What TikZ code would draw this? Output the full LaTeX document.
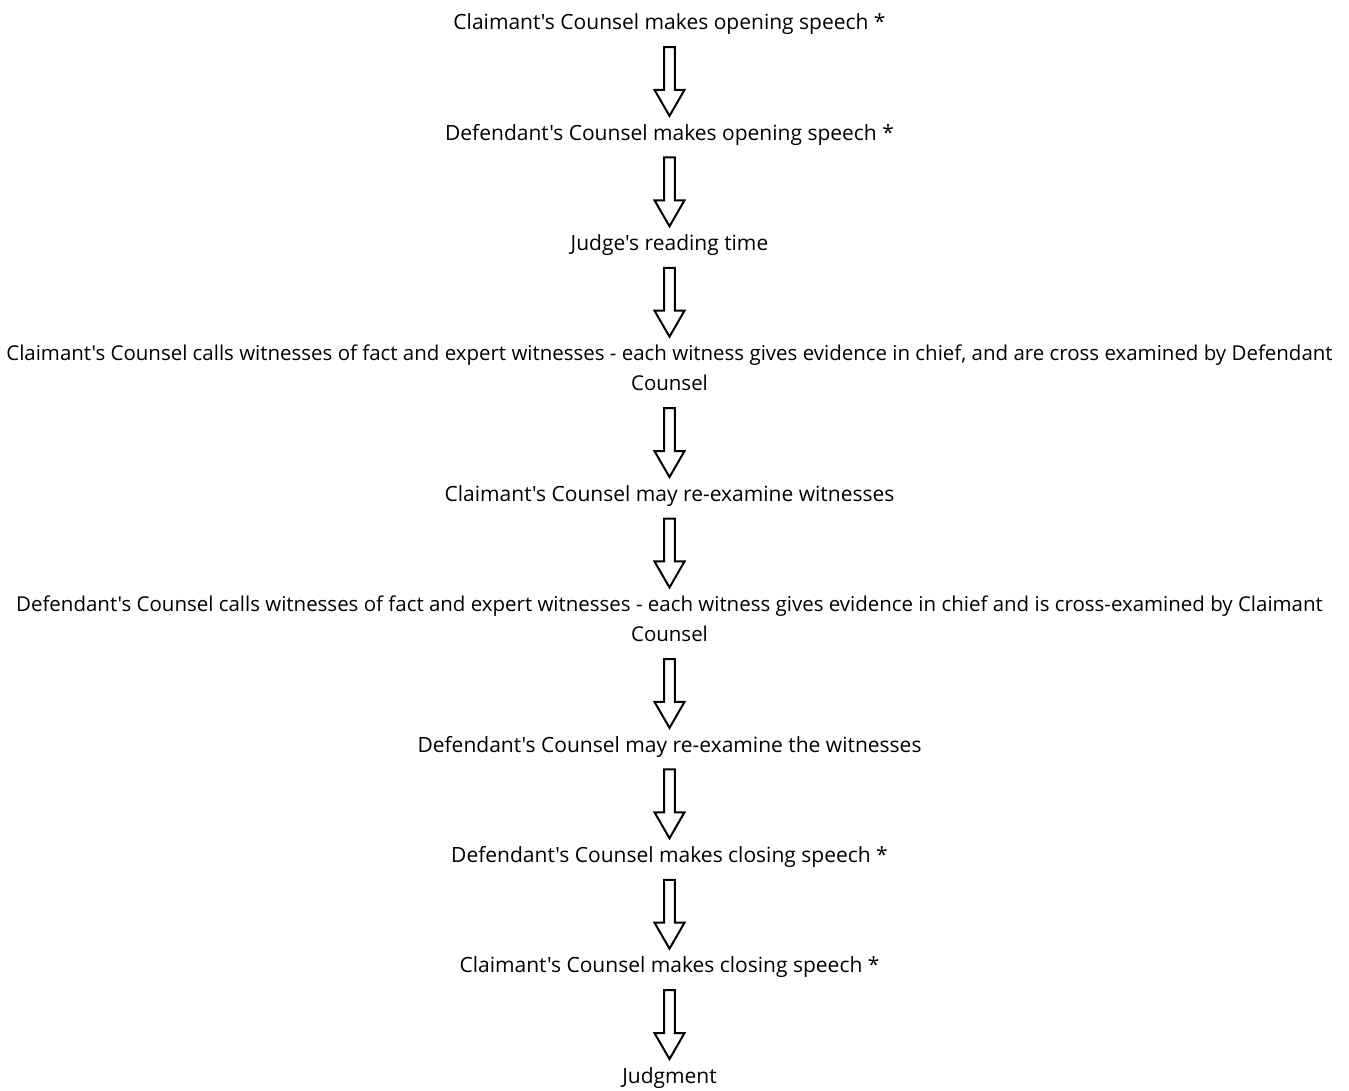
\documentclass[tikz,border=0pt]{standalone}
\usepackage{fontspec}
\setmainfont{Open Sans}[Ligatures=TeXOff]
\usetikzlibrary{calc}
\tikzstyle{stage}=[inner sep=0pt,anchor=south,text height=11.25pt,text depth=0pt,font=\fontsize{15.75}{22.5}\selectfont]
\tikzstyle{stage2}=[stage,align=center,text height=33.75pt,font=\fontsize{15.35}{22.5}\selectfont]
\tikzstyle{flow}=[draw,line width=1.5pt,line join=miter,
  to path={let \p1=(\tikztostart.south), \p2=(\tikztotarget.north) in
    (\x1-4.1pt,\y1-12.75pt) -- (\x1+4.1pt,\y1-12.75pt) -- (\x1+4.1pt,\y2+26.25pt)
    -- (\x1+11.25pt,\y2+26.25pt) -- (\x1,\y2+6.75pt) -- (\x1-11.25pt,\y2+26.25pt)
    -- (\x1-4.1pt,\y2+26.25pt) -- cycle}]

\begin{document}
\begin{tikzpicture}[x=0.75pt,y=-0.75pt]
    \useasboundingbox (0,0) rectangle (1349,1090);
    % the stages of the trial, top to bottom
    \node[stage] (t1) at (669.5,30) {Claimant's Counsel makes opening speech *};
    \node[stage] (t2) at (669.5,140.4) {Defendant's Counsel makes opening speech *};
    \node[stage] (t3) at (669.5,250.8) {Judge's reading time};
    \node[stage2] (t4) at (669.5,391.2) {Claimant's Counsel calls witnesses of fact and expert witnesses - each witness gives evidence in chief, and are cross examined by Defendant\\Counsel};
    \node[stage] (t5) at (669.5,501.6) {Claimant's Counsel may re-examine witnesses};
    \node[stage2] (t6) at (669.5,642) {Defendant's Counsel calls witnesses of fact and expert witnesses - each witness gives evidence in chief and is cross-examined by Claimant\\Counsel};
    \node[stage] (t7) at (669.5,752.4) {Defendant's Counsel may re-examine the witnesses};
    \node[stage] (t8) at (669.5,862.8) {Defendant's Counsel makes closing speech *};
    \node[stage] (t9) at (669.5,973.2) {Claimant's Counsel makes closing speech *};
    \node[stage] (t10) at (669.5,1083.6) {Judgment};

    % hollow arrows between the stages
    \foreach \source/\dest in {t1/t2, t2/t3, t3/t4, t4/t5, t5/t6, t6/t7, t7/t8, t8/t9, t9/t10}
        \draw[flow] (\source) to (\dest);
\end{tikzpicture}
\end{document}
